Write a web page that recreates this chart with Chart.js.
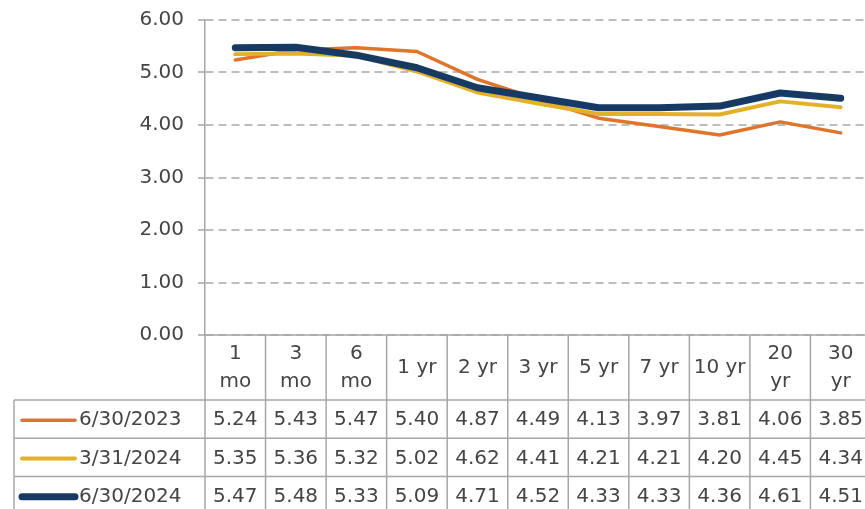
<!DOCTYPE html>
<html><head><meta charset="utf-8">
<script src="https://cdn.jsdelivr.net/npm/chart.js@4.4.1/dist/chart.umd.min.js"></script>
<style>html,body{margin:0;padding:0;background:#fff;overflow:hidden}#wrap{width:865px;height:509px;position:relative;overflow:hidden}</style>
</head><body><div id="wrap"><canvas id="c" width="871" height="509"></canvas></div>
<script>
const categories = [["1","mo"],["3","mo"],["6","mo"],["1 yr"],["2 yr"],["3 yr"],["5 yr"],["7 yr"],["10 yr"],["20","yr"],["30","yr"]];
const seriesNames = ["6/30/2023","3/31/2024","6/30/2024"];
const jun2023 = [5.24,5.43,5.47,5.40,4.87,4.49,4.13,3.97,3.81,4.06,3.85];
const mar2024 = [5.35,5.36,5.32,5.02,4.62,4.41,4.21,4.21,4.20,4.45,4.34];
const jun2024 = [5.47,5.48,5.33,5.09,4.71,4.52,4.33,4.33,4.36,4.61,4.51];
const yMin = 0, yMax = 6, yStep = 1;

const FONT = "'DejaVu Sans', sans-serif";
const WEIGHT = 'normal';
const TXT = '#454545';
const LINE = '#a6a6a6';
const seriesColors = ['#E0742A', '#E2B02A', '#163A64'];
const seriesWidths = [3.5, 4, 7];
const seriesValues = [jun2023, mar2024, jun2024];

const tablePlugin = {
  id: 'dataTable',
  afterDraw(chart) {
    const ctx = chart.ctx, xs = chart.scales.x, ca = chart.chartArea;
    const n = categories.length;
    const colW = xs.width / n;
    const top = ca.bottom;
    const headH = 65;
    const rowH = 38.3;
    const legLeft = 14;
    const right = ca.right;
    ctx.save();
    ctx.strokeStyle = LINE;
    ctx.lineWidth = 1.5;
    ctx.beginPath();
    ctx.moveTo(ca.left, top); ctx.lineTo(right, top);
    for (let r = 0; r <= seriesNames.length; r++) {
      const y = top + headH + r * rowH;
      ctx.moveTo(legLeft, y); ctx.lineTo(right, y);
    }
    const bottom = top + headH + seriesNames.length * rowH;
    for (let i = 0; i <= n; i++) {
      const x = xs.getPixelForValue(0) - colW / 2 + i * colW;
      ctx.moveTo(x, top); ctx.lineTo(x, bottom);
    }
    ctx.moveTo(legLeft, top + headH); ctx.lineTo(legLeft, bottom);
    ctx.stroke();

    ctx.fillStyle = TXT;
    ctx.font = WEIGHT + ' 20px ' + FONT;
    ctx.textAlign = 'center';
    ctx.textBaseline = 'middle';
    categories.forEach((c, i) => {
      const x = xs.getPixelForValue(i);
      if (c.length === 2) {
        ctx.fillText(c[0], x, top + 19);
        ctx.fillText(c[1], x, top + 47);
      } else {
        ctx.fillText(c[0], x, top + 33);
      }
    });
    seriesNames.forEach((name, r) => {
      const yc = top + headH + r * rowH + rowH / 2 + 1;
      seriesValues[r].forEach((v, i) => {
        ctx.fillText(v.toFixed(2), xs.getPixelForValue(i), yc);
      });
      ctx.save();
      ctx.strokeStyle = seriesColors[r];
      ctx.lineWidth = seriesWidths[r];
      ctx.lineCap = 'round';
      ctx.beginPath();
      ctx.moveTo(22, yc); ctx.lineTo(75, yc);
      ctx.stroke();
      ctx.restore();
      ctx.textAlign = 'left';
      ctx.fillText(name, 79, yc);
      ctx.textAlign = 'center';
    });
    ctx.restore();
  }
};

new Chart(document.getElementById('c'), {
  type: 'line',
  data: {
    labels: categories.map(c => c.join(' ')),
    datasets: seriesNames.map((name, k) => ({
      label: name,
      data: seriesValues[k],
      borderColor: seriesColors[k],
      backgroundColor: seriesColors[k],
      borderWidth: seriesWidths[k],
      pointRadius: 0,
      tension: 0,
      borderJoinStyle: 'round',
      borderCapStyle: 'round',
      fill: false,
      order: 2 - k
    }))
  },
  options: {
    responsive: false,
    animation: false,
    devicePixelRatio: 1,
    layout: { padding: { left: 0, top: 20, right: 0, bottom: 174 } },
    plugins: { legend: { display: false }, tooltip: { enabled: false } },
    scales: {
      x: { display: false, offset: true },
      y: {
        min: yMin, max: yMax,
        afterFit(s) { s.width = 205; s.paddingTop = 0; s.paddingBottom = 0; },
        ticks: {
          stepSize: yStep,
          color: TXT,
          font: { family: FONT, size: 20, weight: WEIGHT },
          padding: 14,
          callback: v => Number(v).toFixed(2)
        },
        grid: {
          color: '#bdbdbd',
          lineWidth: 2,
          tickBorderDash: [1, 0],
          tickColor: LINE,
          tickWidth: 1.5,
          tickLength: 7,
          drawTicks: true
        },
        border: { display: true, color: LINE, width: 1.5, dash: [8, 5] }
      }
    }
  },
  plugins: [tablePlugin]
});
</script>
</body></html>
